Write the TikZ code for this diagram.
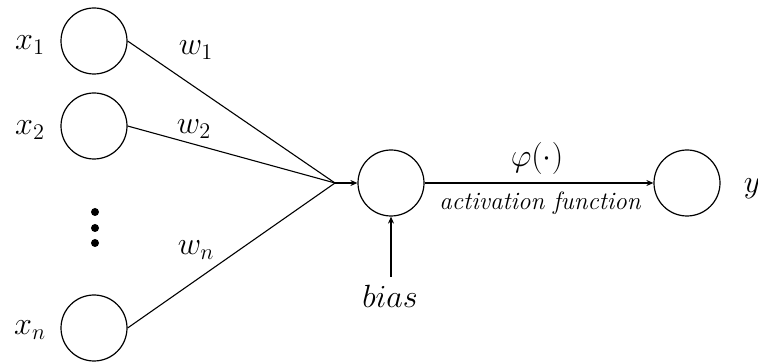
\documentclass[tikz,border=0pt]{standalone}
\usetikzlibrary{arrows.meta}
\begin{document}
\begin{tikzpicture}[x=1pt,y=-1pt,
  neuron/.style={draw,circle,minimum size=66pt,inner sep=0pt,line width=1.2pt},
  conn/.style={line width=1.1pt},
  arr/.style={line width=1.1pt,-{Stealth[length=7pt,width=6pt]}},
  lbl/.style={font=\fontsize{20}{24}\selectfont,inner sep=0pt,scale=1.55,transform shape},
  small/.style={font=\fontsize{20}{24}\selectfont,inner sep=0pt,scale=1.25,transform shape}]
\useasboundingbox (0,0) rectangle (758,363);
\node[neuron] (x1) at (94,41) {};
\node[neuron] (x2) at (94,126) {};
\node[neuron] (xn) at (94,328) {};
\node[neuron] (s) at (391,183) {};
\node[neuron] (o) at (687,183) {};
\coordinate (conv) at (335,183);
\coordinate (b) at (391,277);
\foreach \yy [count=\i] in {212,228,243} \fill (95,\yy) circle (4pt) coordinate (d\i);
\node[lbl] (lx1) at (30,45) {$x_1$};
\node[lbl] (lx2) at (30,130) {$x_2$};
\node[lbl] (lxn) at (30,330) {$x_n$};
\node[lbl] (lw1) at (196,50) {$w_1$};
\node[lbl] (lw2) at (194,129) {$w_2$};
\node[lbl] (lwn) at (196,250) {$w_n$};
\node[lbl] (ly) at (752,189) {$y$};
\node[lbl] (phi) at (537,158) {$\varphi(\cdot)$};
\node[small] (act) at (540,203) {\itshape activation function};
\node[lbl] (bias) at (390,296) {$bias$};
\draw[conn] (x1.east) -- (conv);
\draw[conn] (x2.east) -- (conv);
\draw[conn] (xn.east) -- (conv);
\draw[arr] (conv) -- (s.west);
\draw[arr] (s.east) -- (o.west);
\draw[arr] (b) -- (s.south);
\end{tikzpicture}
\end{document}
